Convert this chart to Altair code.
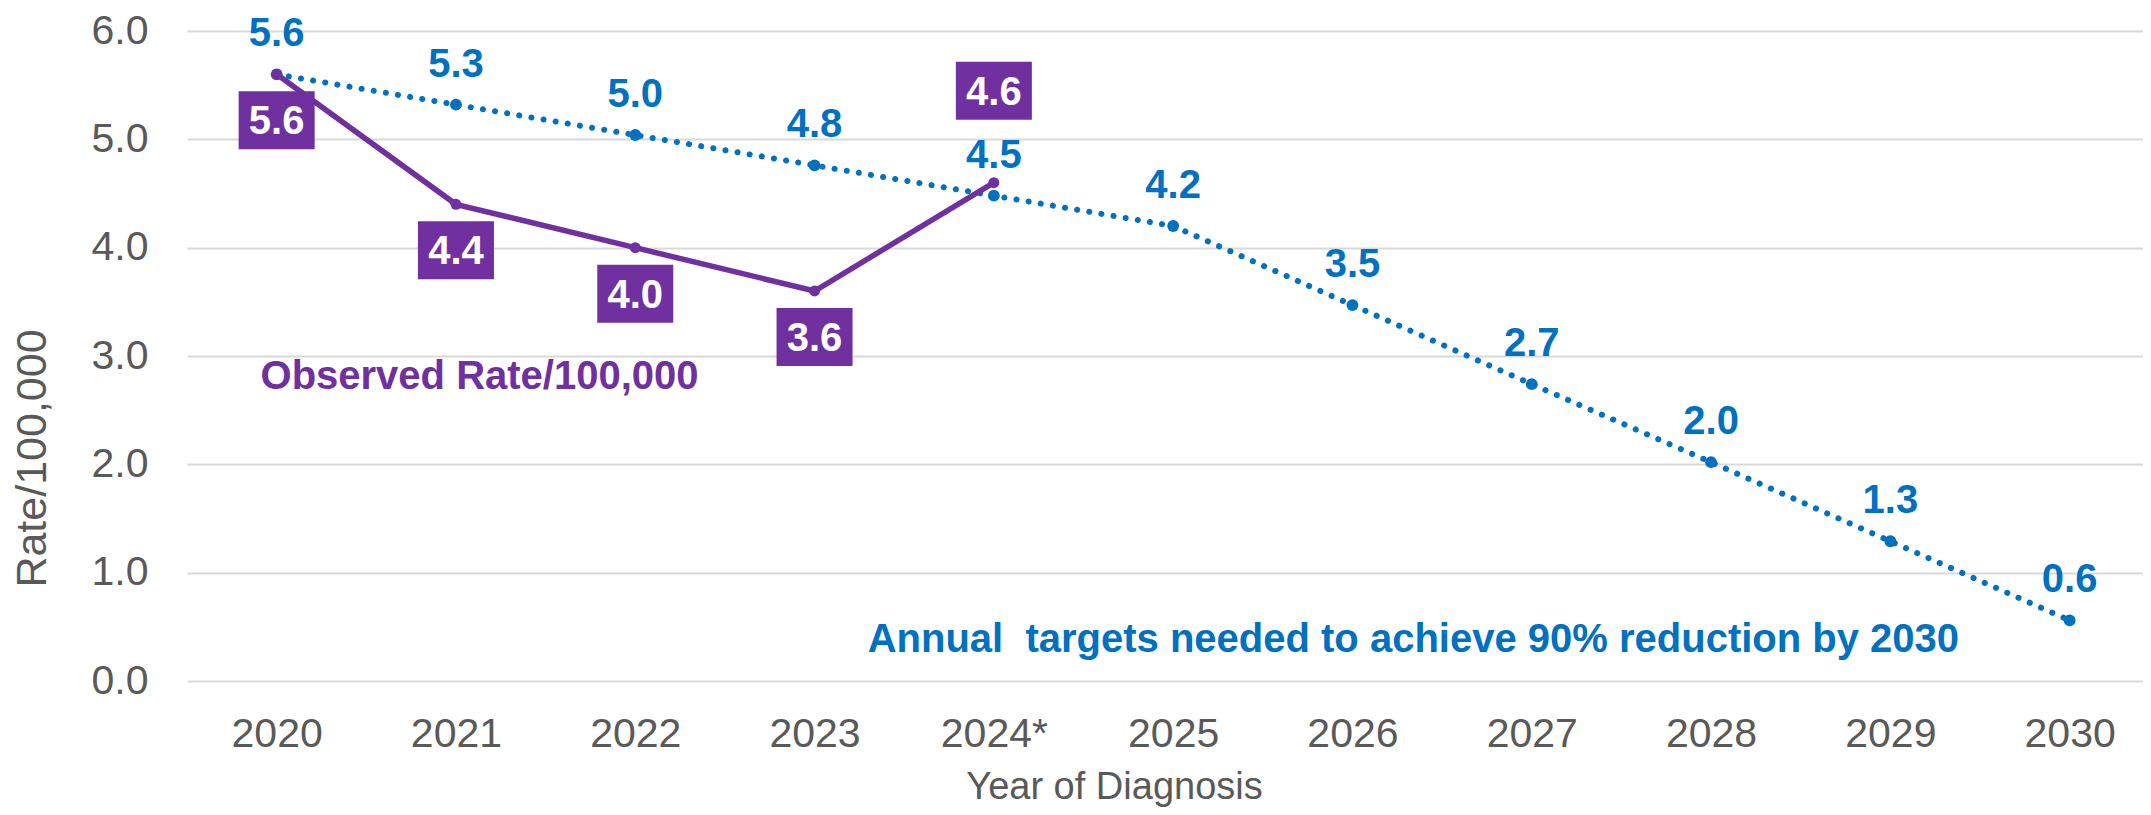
import altair as alt
import pandas as pd

# ---- data ----
years = ["2020", "2021", "2022", "2023", "2024*", "2025", "2026", "2027", "2028", "2029", "2030"]
target = [5.6, 5.32, 5.04, 4.76, 4.48, 4.2, 3.47, 2.74, 2.02, 1.29, 0.56]
observed = [5.6, 4.4, 4.0, 3.6, 4.6]
observed_label_pos = ["below", "below", "below", "below", "above"]

observed_note = "Observed Rate/100,000"
target_note = "Annual\u00a0 targets needed to achieve 90% reduction by 2030"

# ---- styles ----
BLUE = "#0070C0"
PURPLE = "#7030A0"
GRAY = "#595959"
GRID = "#D9D9D9"
FONT = "Liberation Sans"

tdf = pd.DataFrame({"i": list(range(len(years))), "year": years, "v": target})
odf = pd.DataFrame({
    "i": list(range(len(observed))),
    "year": years[:len(observed)],
    "v": observed,
    "pos": observed_label_pos,
})
notes = pd.DataFrame({
    "i": [-0.09, 3.296],
    "v": [2.694, 0.27],
    "t": [observed_note, target_note],
    "c": ["obs", "tgt"],
})

label_arr = "[" + ",".join("'%s'" % y for y in years) + "]"

x_enc = alt.X(
    "i:Q",
    scale=alt.Scale(domain=[-0.5, 10.409], nice=False, zero=False),
    axis=alt.Axis(
        values=list(range(len(years))),
        labelExpr=label_arr + "[datum.value]",
        grid=False, domain=False, ticks=False, tickSize=0,
        labelPadding=53, labelBaseline="middle",
        labelFontSize=41, labelColor=GRAY, labelFont=FONT,
        labelOverlap=False, labelFlush=False,
        title="Year of Diagnosis", titleFontSize=38, titleFontWeight="normal",
        titleColor=GRAY, titleFont=FONT, titleX=927, titleY=117,
        titleBaseline="alphabetic", titleAlign="center",
    ),
)
y_enc = alt.Y(
    "v:Q",
    scale=alt.Scale(domain=[0, 6], nice=False, zero=True),
    axis=alt.Axis(
        values=[0, 1, 2, 3, 4, 5, 6], format=".1f",
        grid=True, gridColor=GRID, gridWidth=2,
        domain=False, ticks=False, tickSize=0,
        labelPadding=39, labelFontSize=41, labelColor=GRAY, labelFont=FONT,
        title="Rate/100,000", titleFontSize=43, titleFontWeight="normal",
        titleColor=GRAY, titleFont=FONT, titleAngle=270,
        titleX=-142, titleY=427, titleBaseline="alphabetic", titleAlign="center",
    ),
)

base_t = alt.Chart(tdf)
base_o = alt.Chart(odf)

blue_line = base_t.mark_line(
    color=BLUE, strokeWidth=6, strokeDash=[0.1, 12.2], strokeCap="round"
).encode(x=x_enc, y=y_enc)
blue_pts = base_t.mark_point(
    shape="circle", filled=True, size=140, color=BLUE, opacity=1, strokeWidth=0
).encode(x="i:Q", y="v:Q")
blue_txt = base_t.mark_text(
    color=BLUE, font=FONT, fontSize=40, fontWeight="bold", baseline="middle",
    align="center", dy=-40
).encode(x="i:Q", y="v:Q", text=alt.Text("v:Q", format=".1f"))

purple_line = base_o.mark_line(color=PURPLE, strokeWidth=5.5).encode(x="i:Q", y="v:Q")
purple_pts = base_o.mark_point(
    shape="circle", filled=True, size=120, color=PURPLE, opacity=1, strokeWidth=0
).encode(x="i:Q", y="v:Q")

box_shape = "M-1,-0.763L1,-0.763L1,0.763L-1,0.763Z"
box_below = base_o.transform_filter("datum.pos == 'below'").mark_point(
    shape=box_shape, filled=True, size=5776, color=PURPLE, opacity=1,
    strokeWidth=0, yOffset=46
).encode(x="i:Q", y="v:Q")
box_above = base_o.transform_filter("datum.pos == 'above'").mark_point(
    shape=box_shape, filled=True, size=5776, color=PURPLE, opacity=1,
    strokeWidth=0, yOffset=-92
).encode(x="i:Q", y="v:Q")
txt_below = base_o.transform_filter("datum.pos == 'below'").mark_text(
    color="white", font=FONT, fontSize=40, fontWeight="bold",
    baseline="middle", align="center", dy=48
).encode(x="i:Q", y="v:Q", text=alt.Text("v:Q", format=".1f"))
txt_above = base_o.transform_filter("datum.pos == 'above'").mark_text(
    color="white", font=FONT, fontSize=40, fontWeight="bold",
    baseline="middle", align="center", dy=-90
).encode(x="i:Q", y="v:Q", text=alt.Text("v:Q", format=".1f"))

note_txt = alt.Chart(notes).mark_text(
    font=FONT, fontSize=40, fontWeight="bold", baseline="alphabetic", align="left"
).encode(
    x="i:Q", y="v:Q", text="t:N",
    color=alt.Color("c:N", scale=alt.Scale(domain=["obs", "tgt"], range=[PURPLE, BLUE]), legend=None),
)

chart = alt.layer(
    blue_line, blue_pts, purple_line, purple_pts,
    box_below, box_above, txt_below, txt_above, blue_txt, note_txt
).properties(
    width=1956, height=650,
    autosize=alt.AutoSizeParams(type="none"),
    padding={"left": 179, "top": 23, "right": 0, "bottom": 126},
    background="white",
).configure_view(stroke=None)

chart.save("out.html", embed_options={"renderer": "svg", "actions": False})
